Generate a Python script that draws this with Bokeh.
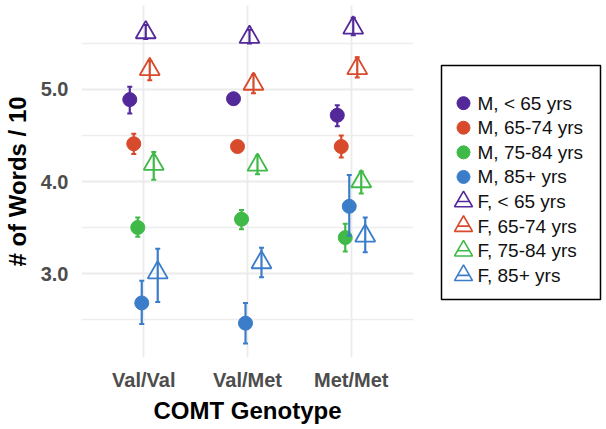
from bokeh.plotting import figure
from bokeh.layouts import row
from bokeh.core.properties import value
from bokeh.models import (ColumnDataSource, FactorRange, Range1d, FixedTicker,
                          NumeralTickFormatter)
from bokeh.transform import dodge
from bokeh.embed import file_html
from bokeh.resources import INLINE

genotypes = ["Val/Val", "Val/Met", "Met/Met"]
groups = ["M, < 65 yrs", "M, 65-74 yrs", "M, 75-84 yrs", "M, 85+ yrs",
          "F, < 65 yrs", "F, 65-74 yrs", "F, 75-84 yrs", "F, 85+ yrs"]
colors = ["#53299a", "#d74a2c", "#3fb947", "#3b7dc9",
          "#53299a", "#d74a2c", "#3fb947", "#3b7dc9"]

# mean, lower, upper per group (Val/Val, Val/Met, Met/Met)
m_lt65 = [4.89, 4.90, 4.72]
m_lt65_lo = [4.74, 4.87, 4.60]
m_lt65_hi = [5.03, 4.93, 4.83]
m_6574 = [4.41, 4.38, 4.38]
m_6574_lo = [4.30, 4.35, 4.26]
m_6574_hi = [4.52, 4.41, 4.50]
m_7584 = [3.50, 3.59, 3.39]
m_7584_lo = [3.40, 3.48, 3.24]
m_7584_hi = [3.61, 3.69, 3.54]
m_85 = [2.68, 2.46, 3.73]
m_85_lo = [2.45, 2.24, 3.41]
m_85_hi = [2.92, 2.68, 4.07]
f_lt65 = [5.62, 5.57, 5.67]
f_lt65_lo = [5.55, 5.50, 5.59]
f_lt65_hi = [5.70, 5.65, 5.78]
f_6574 = [5.22, 5.06, 5.23]
f_6574_lo = [5.10, 4.96, 5.13]
f_6574_hi = [5.31, 5.16, 5.35]
f_7584 = [4.19, 4.18, 4.00]
f_7584_lo = [4.02, 4.08, 3.87]
f_7584_hi = [4.32, 4.28, 4.11]
f_85 = [3.01, 3.12, 3.41]
f_85_lo = [2.69, 2.96, 3.23]
f_85_hi = [3.27, 3.28, 3.61]

series = [
    (m_lt65, m_lt65_lo, m_lt65_hi), (m_6574, m_6574_lo, m_6574_hi),
    (m_7584, m_7584_lo, m_7584_hi), (m_85, m_85_lo, m_85_hi),
    (f_lt65, f_lt65_lo, f_lt65_hi), (f_6574, f_6574_lo, f_6574_hi),
    (f_7584, f_7584_lo, f_7584_hi), (f_85, f_85_lo, f_85_hi),
]

FONT = "Liberation Sans"

p = figure(x_range=FactorRange(*genotypes, range_padding=0.1,
                               range_padding_units="absolute"),
           y_range=Range1d(2.087, 5.913),
           width=418, height=429,
           output_backend="svg", toolbar_location=None,
           min_border_left=80, min_border_right=5, min_border_top=5,
           min_border_bottom=72)
p.outline_line_color = None
p.background_fill_color = "white"
p.border_fill_color = "white"

ticker = FixedTicker(ticks=[3.0, 4.0, 5.0], minor_ticks=[2.5, 3.5, 4.5, 5.5])
p.yaxis.ticker = ticker
p.ygrid.ticker = ticker
p.yaxis.formatter = NumeralTickFormatter(format="0.0")
p.ygrid.grid_line_color = "#ebebeb"
p.ygrid.grid_line_width = 1.8
p.ygrid.minor_grid_line_color = "#ededed"
p.ygrid.minor_grid_line_width = 1.4
p.xgrid.grid_line_color = "#ebebeb"
p.xgrid.grid_line_width = 1.8

for ax in (p.xaxis, p.yaxis):
    ax.axis_line_color = None
    ax.major_tick_line_color = None
    ax.minor_tick_line_color = None
    ax.major_tick_out = 0
    ax.major_tick_in = 0
    ax.minor_tick_out = 0
    ax.minor_tick_in = 0
    ax.major_label_text_font = FONT
    ax.major_label_text_font_style = "bold"
    ax.major_label_text_color = "#4d4d4d"
    ax.major_label_text_font_size = "20px"
    ax.axis_label_text_font = FONT
    ax.axis_label_text_font_style = "bold"
    ax.axis_label_text_color = "black"
    ax.axis_label_text_font_size = "24px"

p.xaxis.axis_label = "COMT Genotype"
p.yaxis.axis_label = "# of Words / 10"
p.xaxis.major_label_standoff = 11
p.xaxis.axis_label_standoff = 3
p.yaxis.major_label_standoff = 13
p.yaxis.axis_label_standoff = 7

step = 0.0385
for i, (name, col, (mean, lo, hi)) in enumerate(zip(groups, colors, series)):
    off = (i - 3.5) * step
    src = ColumnDataSource(dict(g=genotypes, y=mean, lo=lo, hi=hi))
    xs = dodge("g", off, range=p.x_range)
    p.segment(x0=xs, x1=xs, y0="lo", y1="hi", source=src,
              line_color=col, line_width=2.2)
    p.scatter(x=xs, y="lo", source=src, marker="dash", size=5,
              line_color=col, line_width=2)
    p.scatter(x=xs, y="hi", source=src, marker="dash", size=5,
              line_color=col, line_width=2)
    if name.startswith("M"):
        p.scatter(x=xs, y="y", source=src, marker="circle", size=14,
                  fill_color=col, line_color=col, line_width=1)
    else:
        p.scatter(x=xs, y="y", source=src, marker="triangle", size=20,
                  fill_color=None, line_color=col, line_width=1.8)

# ---- legend panel (key drawn from the group list) ----
# y axis in "legend row" units, x axis in pixels of the panel
lp = figure(x_range=Range1d(0, 188), y_range=Range1d(-10.34, 3.97),
            width=188, height=429, output_backend="svg", toolbar_location=None,
            x_axis_location=None, y_axis_location=None,
            min_border_left=0, min_border_right=0, min_border_top=5,
            min_border_bottom=72)
lp.grid.visible = False
lp.outline_line_color = None
lp.border_fill_color = "white"

rows = [-k for k in range(len(groups))]
n_m = sum(1 for g in groups if g.startswith("M"))
lp.quad(left=[23], right=[182], top=[rows[0] + 1.53], bottom=[rows[-1] - 0.98],
        fill_color="white", line_color="black", line_width=1.5)
leg = ColumnDataSource(dict(y=rows, label=groups,
                            tx=[59] * len(groups)))
m_view = ColumnDataSource(dict(y=rows[:n_m], color=colors[:n_m],
                               kx=[45] * n_m))
f_view = ColumnDataSource(dict(y=rows[n_m:], color=colors[n_m:],
                               kx=[45] * (len(groups) - n_m)))
lp.scatter(x="kx", y="y", source=m_view, marker="circle", size=13,
           fill_color="color", line_color="color")
lp.scatter(x="kx", y="y", source=f_view, marker="triangle", size=18,
           fill_color=None, line_color="color", line_width=1.6)
lp.scatter(x="kx", y="y", source=f_view, marker="dash", size=11,
           line_color="color", line_width=1.6)
lp.text(x="tx", y="y", text="label", source=leg, text_baseline="middle",
        text_font=value(FONT), text_font_size="19px", text_color="#111111")

layout = row(p, lp)
open("out.html", "w").write(file_html(layout, INLINE))
